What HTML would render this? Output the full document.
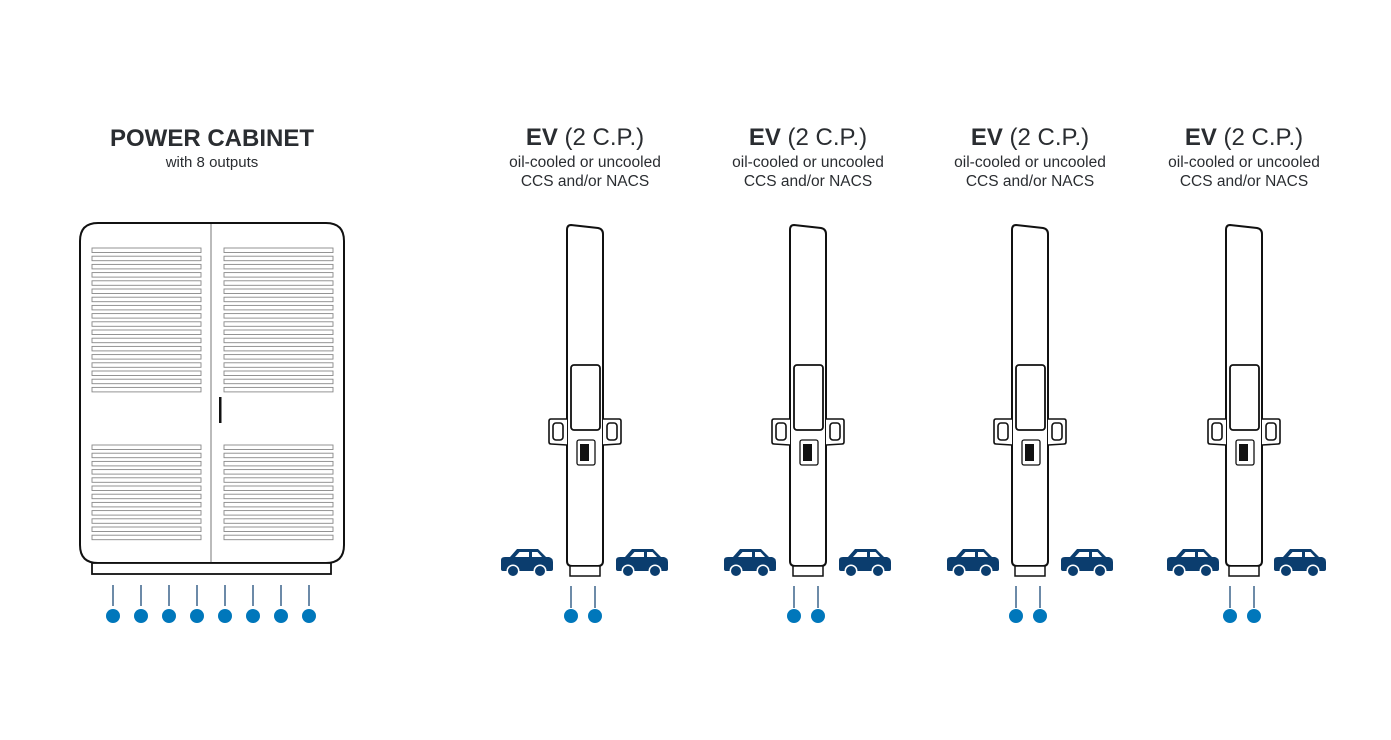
<!DOCTYPE html>
<html><head><meta charset="utf-8"><style>
html,body{margin:0;padding:0;background:#fff;}
svg{display:block;}
text{font-family:"Liberation Sans",sans-serif;fill:#2a2d31;}
</style></head><body>
<svg width="1391" height="740" viewBox="0 0 1391 740" xmlns="http://www.w3.org/2000/svg">
<defs>
<g id="louv"><rect x="0" y="0" width="109" height="4.5" fill="none" stroke="#888" stroke-width="0.9"/></g>
<g id="car" fill="#0b3d6e">
<path d="M0,11 Q0,8 4,8 L9,8 L16,0 L37,0 L45,8 L48,8 Q52,9 52,13 L52,20 Q52,22 50,22 L2,22 Q0,22 0,20 Z"/>
<path d="M18.5,3 L28,3 L28,8 L14,8 Z" fill="#fff"/>
<path d="M31,3 L36.5,3 L41,8 L31,8 Z" fill="#fff"/>
<circle cx="12" cy="22" r="6.5" fill="#fff"/><circle cx="12" cy="22" r="5"/>
<circle cx="39" cy="22" r="6.5" fill="#fff"/><circle cx="39" cy="22" r="5"/>
</g>
<g id="chg">
<path d="M4,0 L31,3 Q36,4 36,9 L36,336 Q36,341 31,341 L5,341 Q0,341 0,336 L0,5 Q0,0 4,0 Z" fill="#fff" stroke="#111" stroke-width="2"/>
<rect x="3" y="341" width="30" height="10" fill="#fff" stroke="#111" stroke-width="1.5"/>
<rect x="4" y="140" width="29" height="65" rx="3" fill="#fff" stroke="#111" stroke-width="1.8"/>
<path d="M0,194 L-16,194 Q-18,194 -18,196 L-18,217 Q-18,219 -16,219 L0,220" fill="#fff" stroke="#111" stroke-width="1.6"/>
<rect x="-14" y="198" width="10" height="17" rx="3" fill="#fff" stroke="#111" stroke-width="1.6"/>
<path d="M36,194 L52,194 Q54,194 54,196 L54,217 Q54,219 52,219 L36,220" fill="#fff" stroke="#111" stroke-width="1.6"/>
<rect x="40" y="198" width="10" height="17" rx="3" fill="#fff" stroke="#111" stroke-width="1.6"/>
<rect x="10" y="215" width="18" height="25" rx="2" fill="#fff" stroke="#111" stroke-width="1.3"/>
<rect x="13" y="219" width="9" height="17" fill="#111"/>
<line x1="4" y1="361" x2="4" y2="383" stroke="#0b3d6e" stroke-width="1.2"/>
<line x1="28" y1="361" x2="28" y2="383" stroke="#0b3d6e" stroke-width="1.2"/>
<circle cx="4" cy="391" r="7" fill="#0077bb"/>
<circle cx="28" cy="391" r="7" fill="#0077bb"/>
</g>
</defs>

<text x="212" y="146" text-anchor="middle" font-size="24" font-weight="bold">POWER CABINET</text>
<text x="212" y="167" text-anchor="middle" font-size="15">with 8 outputs</text>

<path d="M98,223 L326,223 Q344,223 344,241 L344,545 Q344,563 326,563 L98,563 Q80,563 80,545 L80,241 Q80,223 98,223 Z" fill="#fff" stroke="#111" stroke-width="2"/>
<line x1="211" y1="224" x2="211" y2="563" stroke="#777" stroke-width="1"/>
<rect x="92" y="563" width="239" height="11" fill="#fff" stroke="#111" stroke-width="1.8"/>
<rect x="219" y="397" width="2.5" height="26" fill="#111"/>
<g>
<use href="#louv" x="92" y="248"/><use href="#louv" x="92" y="256.2"/><use href="#louv" x="92" y="264.4"/><use href="#louv" x="92" y="272.6"/><use href="#louv" x="92" y="280.8"/><use href="#louv" x="92" y="289"/><use href="#louv" x="92" y="297.2"/><use href="#louv" x="92" y="305.4"/><use href="#louv" x="92" y="313.6"/><use href="#louv" x="92" y="321.8"/><use href="#louv" x="92" y="330"/><use href="#louv" x="92" y="338.2"/><use href="#louv" x="92" y="346.4"/><use href="#louv" x="92" y="354.6"/><use href="#louv" x="92" y="362.8"/><use href="#louv" x="92" y="371"/><use href="#louv" x="92" y="379.2"/><use href="#louv" x="92" y="387.4"/>
<use href="#louv" x="224" y="248"/><use href="#louv" x="224" y="256.2"/><use href="#louv" x="224" y="264.4"/><use href="#louv" x="224" y="272.6"/><use href="#louv" x="224" y="280.8"/><use href="#louv" x="224" y="289"/><use href="#louv" x="224" y="297.2"/><use href="#louv" x="224" y="305.4"/><use href="#louv" x="224" y="313.6"/><use href="#louv" x="224" y="321.8"/><use href="#louv" x="224" y="330"/><use href="#louv" x="224" y="338.2"/><use href="#louv" x="224" y="346.4"/><use href="#louv" x="224" y="354.6"/><use href="#louv" x="224" y="362.8"/><use href="#louv" x="224" y="371"/><use href="#louv" x="224" y="379.2"/><use href="#louv" x="224" y="387.4"/>
<use href="#louv" x="92" y="445"/><use href="#louv" x="92" y="453.2"/><use href="#louv" x="92" y="461.4"/><use href="#louv" x="92" y="469.6"/><use href="#louv" x="92" y="477.8"/><use href="#louv" x="92" y="486"/><use href="#louv" x="92" y="494.2"/><use href="#louv" x="92" y="502.4"/><use href="#louv" x="92" y="510.6"/><use href="#louv" x="92" y="518.8"/><use href="#louv" x="92" y="527"/><use href="#louv" x="92" y="535.2"/>
<use href="#louv" x="224" y="445"/><use href="#louv" x="224" y="453.2"/><use href="#louv" x="224" y="461.4"/><use href="#louv" x="224" y="469.6"/><use href="#louv" x="224" y="477.8"/><use href="#louv" x="224" y="486"/><use href="#louv" x="224" y="494.2"/><use href="#louv" x="224" y="502.4"/><use href="#louv" x="224" y="510.6"/><use href="#louv" x="224" y="518.8"/><use href="#louv" x="224" y="527"/><use href="#louv" x="224" y="535.2"/>
</g>
<g stroke="#0b3d6e" stroke-width="1.2">
<line x1="113" y1="585" x2="113" y2="606"/><line x1="141" y1="585" x2="141" y2="606"/><line x1="169" y1="585" x2="169" y2="606"/><line x1="197" y1="585" x2="197" y2="606"/><line x1="225" y1="585" x2="225" y2="606"/><line x1="253" y1="585" x2="253" y2="606"/><line x1="281" y1="585" x2="281" y2="606"/><line x1="309" y1="585" x2="309" y2="606"/>
</g>
<g fill="#0077bb">
<circle cx="113" cy="616" r="7"/><circle cx="141" cy="616" r="7"/><circle cx="169" cy="616" r="7"/><circle cx="197" cy="616" r="7"/><circle cx="225" cy="616" r="7"/><circle cx="253" cy="616" r="7"/><circle cx="281" cy="616" r="7"/><circle cx="309" cy="616" r="7"/>
</g>

<g text-anchor="middle">
<text x="585" y="145" font-size="24"><tspan font-weight="bold">EV</tspan> (2 C.P.)</text>
<text x="585" y="167" font-size="15.5">oil-cooled or uncooled</text>
<text x="585" y="186" font-size="15.5">CCS and/or NACS</text>
<text x="808" y="145" font-size="24"><tspan font-weight="bold">EV</tspan> (2 C.P.)</text>
<text x="808" y="167" font-size="15.5">oil-cooled or uncooled</text>
<text x="808" y="186" font-size="15.5">CCS and/or NACS</text>
<text x="1030" y="145" font-size="24"><tspan font-weight="bold">EV</tspan> (2 C.P.)</text>
<text x="1030" y="167" font-size="15.5">oil-cooled or uncooled</text>
<text x="1030" y="186" font-size="15.5">CCS and/or NACS</text>
<text x="1244" y="145" font-size="24"><tspan font-weight="bold">EV</tspan> (2 C.P.)</text>
<text x="1244" y="167" font-size="15.5">oil-cooled or uncooled</text>
<text x="1244" y="186" font-size="15.5">CCS and/or NACS</text>
</g>

<use href="#chg" x="567" y="225"/>
<use href="#chg" x="790" y="225"/>
<use href="#chg" x="1012" y="225"/>
<use href="#chg" x="1226" y="225"/>

<use href="#car" x="501" y="549"/><use href="#car" x="616" y="549"/>
<use href="#car" x="724" y="549"/><use href="#car" x="839" y="549"/>
<use href="#car" x="947" y="549"/><use href="#car" x="1061" y="549"/>
<use href="#car" x="1167" y="549"/><use href="#car" x="1274" y="549"/>
</svg>
</body></html>
